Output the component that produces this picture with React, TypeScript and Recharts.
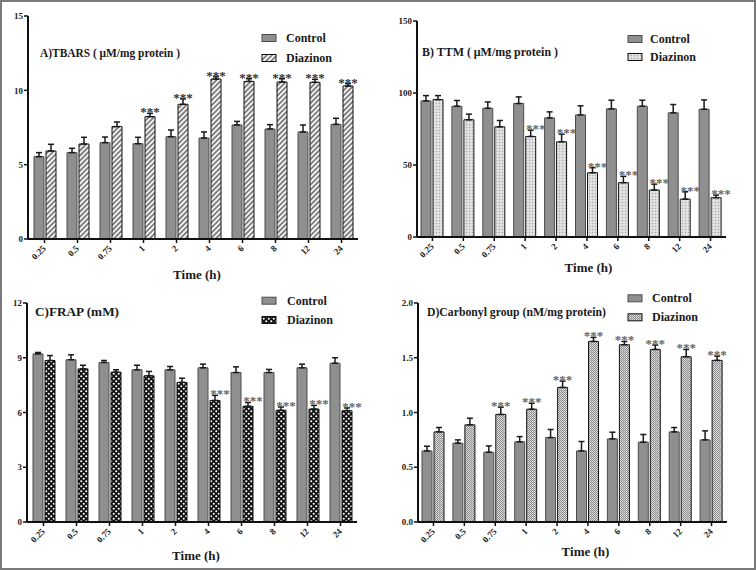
import React from 'react';
import { BarChart, Bar, XAxis, YAxis, ErrorBar, LabelList } from 'recharts';

const categories = ['0.25', '0.5', '0.75', '1', '2', '4', '6', '8', '12', '24'];

// A) TBARS
const tbarsControl = [5.54, 5.81, 6.48, 6.41, 6.88, 6.79, 7.67, 7.4, 7.2, 7.71];
const tbarsControlSem = [0.27, 0.29, 0.38, 0.43, 0.45, 0.41, 0.24, 0.29, 0.47, 0.41];
const tbarsDiazinon = [5.92, 6.39, 7.56, 8.23, 9.06, 10.76, 10.6, 10.56, 10.54, 10.29];
const tbarsDiazinonSem = [0.45, 0.45, 0.31, 0.22, 0.36, 0.16, 0.18, 0.22, 0.2, 0.16];
const tbarsSig = ['', '', '', '***', '***', '***', '***', '***', '***', '***'];

// B) TTM
const ttmControl = [94.5, 90.8, 89.4, 92.7, 82.7, 84.8, 89.0, 90.8, 86.2, 88.7];
const ttmControlSem = [3.7, 4.0, 4.4, 4.6, 4.2, 6.3, 6.0, 4.2, 5.8, 6.5];
const ttmDiazinon = [95.4, 81.4, 76.5, 69.8, 66.1, 44.6, 37.7, 32.6, 26.3, 27.3];
const ttmDiazinonSem = [2.8, 3.9, 4.4, 4.4, 5.3, 3.5, 4.4, 4.1, 5.1, 1.8];
const ttmSig = ['', '', '', '***', '***', '***', '***', '***', '***', '***'];

// C) FRAP
const frapControl = [9.21, 8.89, 8.74, 8.34, 8.34, 8.45, 8.19, 8.19, 8.45, 8.7];
const frapControlSem = [0.08, 0.27, 0.11, 0.25, 0.18, 0.2, 0.31, 0.17, 0.2, 0.3];
const frapDiazinon = [8.85, 8.39, 8.21, 8.01, 7.65, 6.66, 6.34, 6.12, 6.19, 6.1];
const frapDiazinonSem = [0.27, 0.2, 0.13, 0.24, 0.23, 0.28, 0.21, 0.18, 0.2, 0.15];
const frapSig = ['', '', '', '', '', '***', '***', '***', '***', '***'];

// D) Carbonyl group
const carbControl = [0.649, 0.72, 0.637, 0.732, 0.771, 0.649, 0.759, 0.729, 0.823, 0.75];
const carbControlSem = [0.043, 0.03, 0.058, 0.048, 0.074, 0.086, 0.061, 0.07, 0.04, 0.082];
const carbDiazinon = [0.823, 0.887, 0.982, 1.03, 1.229, 1.649, 1.619, 1.576, 1.509, 1.476];
const carbDiazinonSem = [0.04, 0.061, 0.067, 0.055, 0.058, 0.037, 0.03, 0.04, 0.067, 0.039];
const carbSig = ['', '', '***', '***', '***', '***', '***', '***', '***', '***'];

const ticksA = [0, 5, 10, 15];
const ticksB = [0, 50, 100, 150];
const ticksC = [0, 3, 6, 9, 12];
const ticksD = [0, 0.5, 1.0, 1.5, 2.0];

const FONT = 'Liberation Serif, DejaVu Serif, serif';

type Cfg = {
  id: string;
  left: number;
  top: number;
  mt: number;
  mr: number;
  yw: number;
  xh: number;
  ticks: number[];
  fmt?: (v: number) => string;
  control: number[];
  controlSem: number[];
  diazinon: number[];
  diazinonSem: number[];
  sig: string[];
  title: string;
  titleX: number;
  titleY: number;
  titleLen: number;
  legX: number;
  legY1: number;
  legY2: number;
  legTextX: number;
  starDx: number;
  starColor: string;
  labelDx: number;
  labelDy: number;
};

const panels: Cfg[] = [
  {
    id: 'A', left: 0, top: 0, mt: 16, mr: 20, yw: 28, xh: 46, ticks: ticksA,
    control: tbarsControl, controlSem: tbarsControlSem, diazinon: tbarsDiazinon, diazinonSem: tbarsDiazinonSem, sig: tbarsSig,
    title: 'A)TBARS ( μM/mg protein )', titleX: 40, titleY: 56.5, titleLen: 140,
    legX: 262, legY1: 38, legY2: 58, legTextX: 286, starDx: 0, starColor: '#333', labelDx: 4, labelDy: 40,
  },
  {
    id: 'B', left: 378, top: 0, mt: 21, mr: 30, yw: 39, xh: 48, ticks: ticksB,
    control: ttmControl, controlSem: ttmControlSem, diazinon: ttmDiazinon, diazinonSem: ttmDiazinonSem, sig: ttmSig,
    title: 'B) TTM ( μM/mg protein )', titleX: 44, titleY: 56, titleLen: 136,
    legX: 250, legY1: 39, legY2: 57, legTextX: 272, starDx: 5, starColor: '#666', labelDx: 17, labelDy: 35,
  },
  {
    id: 'C', left: 0, top: 285, mt: 18, mr: 21, yw: 27, xh: 48, ticks: ticksC,
    control: frapControl, controlSem: frapControlSem, diazinon: frapDiazinon, diazinonSem: frapDiazinonSem, sig: frapSig,
    title: 'C)FRAP (mM)', titleX: 35, titleY: 31, titleLen: 84,
    legX: 262, legY1: 15.7, legY2: 35, legTextX: 287, starDx: 5, starColor: '#666', labelDx: 4, labelDy: 38,
  },
  {
    id: 'D', left: 378, top: 285, mt: 18, mr: 29, yw: 40, xh: 48, ticks: ticksD, fmt: (v: number) => v.toFixed(1),
    control: carbControl, controlSem: carbControlSem, diazinon: carbDiazinon, diazinonSem: carbDiazinonSem, sig: carbSig,
    title: 'D)Carbonyl group (nM/mg protein)', titleX: 49, titleY: 31, titleLen: 179,
    legX: 250, legY1: 13.3, legY2: 32.3, legTextX: 274, starDx: 0, starColor: '#666', labelDx: 13, labelDy: 34,
  },
];

const textStyle = { fontFamily: FONT, fontWeight: 700 as const };

function PatternDef({ id }: { id: string }) {
  if (id === 'A') {
    return (
      <pattern id={`pat${id}`} width="3.6" height="3.6" patternUnits="userSpaceOnUse" patternTransform="rotate(45)">
        <rect width="3.6" height="3.6" fill="#f4f4f4" />
        <line x1="0.9" y1="0" x2="0.9" y2="3.6" stroke="#6e6e6e" strokeWidth="1.6" />
      </pattern>
    );
  }
  if (id === 'B') {
    return (
      <pattern id={`pat${id}`} width="3" height="3" patternUnits="userSpaceOnUse">
        <rect width="3" height="3" fill="#e2e2e2" />
        <circle cx="1.5" cy="1.5" r="0.75" fill="#a8a8a8" />
      </pattern>
    );
  }
  if (id === 'C') {
    return (
      <pattern id={`pat${id}`} width="5" height="5" patternUnits="userSpaceOnUse">
        <rect width="5" height="5" fill="#111" />
        <circle cx="1.25" cy="1.25" r="1.05" fill="#fff" />
        <circle cx="3.75" cy="3.75" r="1.05" fill="#fff" />
      </pattern>
    );
  }
  return (
    <pattern id={`pat${id}`} width="2" height="2" patternUnits="userSpaceOnUse">
      <rect width="2" height="2" fill="#8a8a8a" />
      <rect x="0" y="0" width="1" height="1" fill="#e8e8e8" />
      <rect x="1" y="1" width="1" height="1" fill="#d0d0d0" />
    </pattern>
  );
}

function XTick(props: any) {
  const { x, y, payload } = props;
  const ax = x + 2;
  const ay = y + 4;
  return (
    <text
      x={ax}
      y={ay}
      transform={`rotate(-45, ${ax}, ${ay})`}
      textAnchor="end"
      fontSize={9}
      style={textStyle}
      fill="#222"
    >
      {payload.value}
    </text>
  );
}

function Panel({ cfg }: { cfg: Cfg }) {
  const data = categories.map((c, i) => ({
    time: c,
    control: cfg.control[i],
    diazinon: cfg.diazinon[i],
    cErr: [0, cfg.controlSem[i]],
    dErr: [0, cfg.diazinonSem[i]],
    sig: cfg.sig[i],
  }));
  const domainMax = cfg.ticks[cfg.ticks.length - 1];

  const starContent = (p: any) => {
    const idx = p.index;
    const sig = cfg.sig[idx];
    if (!sig) return null;
    const vb = p.viewBox || {};
    const x = p.x ?? vb.x;
    const y = p.y ?? vb.y;
    const w = p.width ?? vb.width;
    const h = p.height ?? vb.height;
    const v = cfg.diazinon[idx];
    const pxPerUnit = h / v;
    const errTop = y - cfg.diazinonSem[idx] * pxPerUnit;
    return (
      <text
        x={x + w / 2 + cfg.starDx}
        y={errTop + 3}
        textAnchor="middle"
        fontSize={13}
        style={textStyle}
        fill={cfg.starColor}
      >
        {sig}
      </text>
    );
  };

  const timeLabel = (p: any) => {
    const vb = p.viewBox;
    return (
      <text
        x={vb.x + vb.width / 2 + cfg.labelDx}
        y={vb.y + cfg.labelDy}
        textAnchor="middle"
        fontSize={13}
        style={textStyle}
        fill="#1a1a1a"
      >
        Time (h)
      </text>
    );
  };

  return (
    <div style={{ position: 'absolute', left: cfg.left, top: cfg.top, width: 378, height: 285 }}>
      <BarChart
        width={378}
        height={285}
        data={data}
        margin={{ top: cfg.mt, right: cfg.mr, left: 0, bottom: 0 }}
        barSize={10}
        barGap={2}
        style={{ fontFamily: FONT }}
      >
        <defs>
          <PatternDef id={cfg.id} />
        </defs>
        <XAxis
          dataKey="time"
          height={cfg.xh}
          interval={0}
          tick={<XTick />}
          tickSize={4}
          axisLine={{ stroke: '#111', strokeWidth: 2 }}
          tickLine={{ stroke: '#111', strokeWidth: 1.5 }}
          label={{ content: timeLabel }}
        />
        <YAxis
          width={cfg.yw}
          domain={[0, domainMax]}
          ticks={cfg.ticks}
          allowDataOverflow
          interval={0}
          tickSize={4}
          tickMargin={1}
          tickFormatter={cfg.fmt}
          axisLine={{ stroke: '#111', strokeWidth: 2 }}
          tickLine={{ stroke: '#111', strokeWidth: 1.5 }}
          tick={{ fontSize: 9, fontWeight: 'bold', fontFamily: FONT, fill: '#222', style: textStyle }}
        />
        <Bar dataKey="control" fill="#8f8f8f" stroke="#4d4d4d" strokeWidth={1} isAnimationActive={false}>
          <ErrorBar dataKey="cErr" width={3} stroke="#1a1a1a" strokeWidth={1.5} isAnimationActive={false} />
        </Bar>
        <Bar dataKey="diazinon" fill={`url(#pat${cfg.id})`} stroke="#111" strokeWidth={1} isAnimationActive={false}>
          <ErrorBar dataKey="dErr" width={3} stroke="#1a1a1a" strokeWidth={1.5} isAnimationActive={false} />
          <LabelList dataKey="sig" content={starContent} />
        </Bar>
        <text
          x={cfg.titleX}
          y={cfg.titleY}
          fontSize={13}
          style={textStyle}
          fill="#1a1a1a"
          textLength={cfg.titleLen}
          lengthAdjust="spacingAndGlyphs"
        >
          {cfg.title}
        </text>
        <g>
          <rect x={cfg.legX} y={cfg.legY1 - 3.5} width={14} height={7} fill="#8f8f8f" stroke="#4d4d4d" strokeWidth={1} />
          <text x={cfg.legTextX} y={cfg.legY1 + 4} fontSize={12} style={textStyle} fill="#1a1a1a">
            Control
          </text>
          <rect x={cfg.legX} y={cfg.legY2 - 3.5} width={14} height={7} fill={`url(#pat${cfg.id})`} stroke="#111" strokeWidth={1} />
          <text x={cfg.legTextX} y={cfg.legY2 + 4} fontSize={12} style={textStyle} fill="#1a1a1a">
            Diazinon
          </text>
        </g>
      </BarChart>
    </div>
  );
}

export default function App() {
  return (
    <div
      style={{
        position: 'absolute',
        left: 0,
        top: 0,
        width: 756,
        height: 570,
        background: '#fff',
        overflow: 'hidden',
        fontFamily: FONT,
      }}
    >
      {panels.map((p) => (
        <Panel key={p.id} cfg={p} />
      ))}
      <div
        style={{
          position: 'absolute',
          left: 0,
          top: 0,
          width: 756,
          height: 570,
          boxSizing: 'border-box',
          border: '2px solid #7a7a7a',
          pointerEvents: 'none',
        }}
      />
    </div>
  );
}
